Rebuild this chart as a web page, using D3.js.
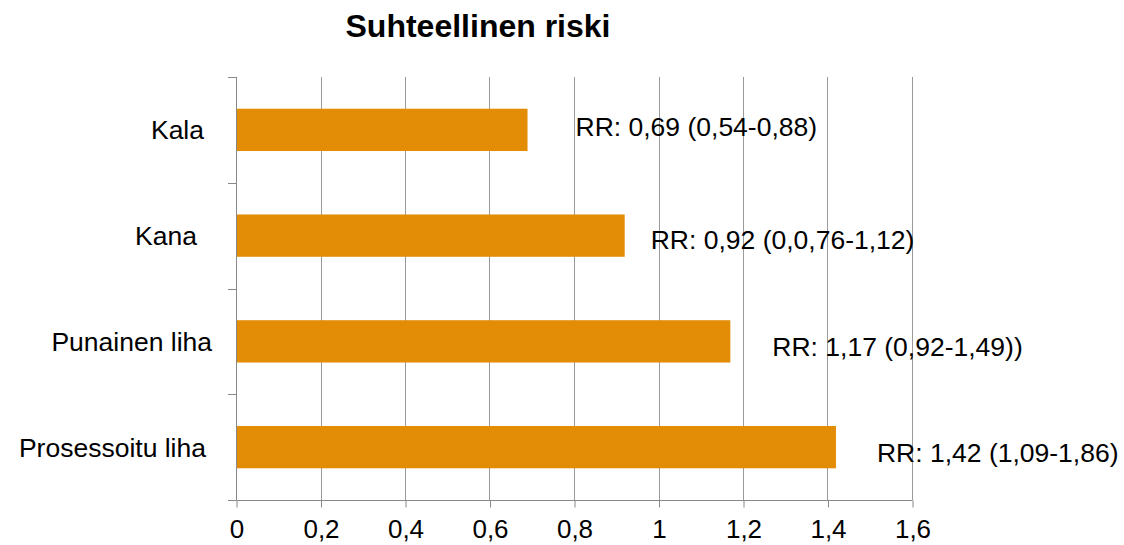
<!DOCTYPE html>
<html>
<head>
<meta charset="utf-8">
<script src="https://cdn.jsdelivr.net/npm/d3@7"></script>
<style>
  html, body { margin: 0; padding: 0; background: #fff; }
  svg { display: block; }
  text { font-family: "Liberation Sans", Arial, sans-serif; fill: #000; }
</style>
</head>
<body>
<svg id="chart" width="1124" height="545"></svg>
<script>
// ---- data ----
const categories = ["Kala", "Kana", "Punainen liha", "Prosessoitu liha"];
const values = [0.69, 0.92, 1.17, 1.42];
const valueLabels = [
  "RR: 0,69 (0,54-0,88)",
  "RR: 0,92 (0,0,76-1,12)",
  "RR: 1,17 (0,92-1,49))",
  "RR: 1,42 (1,09-1,86)"
];
const tickValues = [0, 0.2, 0.4, 0.6, 0.8, 1, 1.2, 1.4, 1.6];
const tickLabels = ["0", "0,2", "0,4", "0,6", "0,8", "1", "1,2", "1,4", "1,6"];
const chartTitle = "Suhteellinen riski";

// ---- layout (not data) ----
const labelDx = [48, 26, 42, 41];      // data label offset from bar end (px)
const labelDy = [6, 13, 15, 15];       // data label baseline offset from band centre (px)
const catRight = [204, 197, 212, 206]; // right edge of category labels (px)

(function () {
const svg = d3.select("#chart");
const pLeft = 236, pRight = 912, pTop = 77, pBottom = 500;

const x = d3.scaleLinear().domain([0, 1.6]).range([pLeft, pRight]);
const y = d3.scaleBand().domain(categories).range([pTop, pBottom]).padding(0);

// gridlines
svg.append("g")
  .selectAll("line")
  .data(tickValues.slice(1))
  .join("line")
  .attr("x1", d => Math.round(x(d)) + 0.5)
  .attr("x2", d => Math.round(x(d)) + 0.5)
  .attr("y1", pTop)
  .attr("y2", pBottom)
  .attr("stroke", "#9a9a9a")
  .attr("stroke-width", 1);

// bars
const barH = y.bandwidth() * 0.4;
svg.append("g")
  .selectAll("rect")
  .data(categories)
  .join("rect")
  .attr("x", x(0))
  .attr("y", d => y(d) + (y.bandwidth() - barH) / 2)
  .attr("width", (d, i) => x(values[i]) - x(0))
  .attr("height", barH)
  .attr("fill", "#E38C06");

// bottom axis
const xAxis = d3.axisBottom(x)
  .tickValues(tickValues)
  .tickFormat((d, i) => tickLabels[i])
  .tickSizeInner(7)
  .tickSizeOuter(0)
  .tickPadding(12);
const gx = svg.append("g")
  .attr("transform", `translate(0.5,${pBottom + 0.5})`)
  .call(xAxis);
gx.select(".domain").attr("stroke", "#888").attr("d", `M${pLeft},0H${pRight}`);
gx.selectAll(".tick line").attr("stroke", "#888");
gx.selectAll(".tick text")
  .attr("font-size", 26)
  .attr("font-family", "Liberation Sans, Arial, sans-serif")
  .attr("fill", "#000");

// left axis (tick marks at band boundaries)
const bounds = categories.map(c => y(c)).concat([pBottom]);
const gy = svg.append("g");
gy.append("line")
  .attr("x1", pLeft + 0.5).attr("x2", pLeft + 0.5)
  .attr("y1", pTop).attr("y2", pBottom)
  .attr("stroke", "#888");
gy.selectAll("line.tk")
  .data(bounds)
  .join("line")
  .attr("class", "tk")
  .attr("x1", pLeft - 8).attr("x2", pLeft + 0.5)
  .attr("y1", d => Math.round(d) + 0.5)
  .attr("y2", d => Math.round(d) + 0.5)
  .attr("stroke", "#888");

// category labels
svg.append("g")
  .selectAll("text")
  .data(categories)
  .join("text")
  .attr("x", (d, i) => catRight[i])
  .attr("y", d => y(d) + y.bandwidth() / 2 + 9.5)
  .attr("text-anchor", "end")
  .attr("font-size", 26.5)
  .text(d => d);

// data labels
svg.append("g")
  .selectAll("text")
  .data(categories)
  .join("text")
  .attr("x", (d, i) => x(values[i]) + labelDx[i])
  .attr("y", (d, i) => y(d) + y.bandwidth() / 2 + labelDy[i])
  .attr("font-size", 26.5)
  .text((d, i) => valueLabels[i]);

// title
svg.append("text")
  .attr("x", 478)
  .attr("y", 37)
  .attr("text-anchor", "middle")
  .attr("font-size", 32)
  .attr("font-weight", "bold")
  .text(chartTitle);
})();
</script>
</body>
</html>
